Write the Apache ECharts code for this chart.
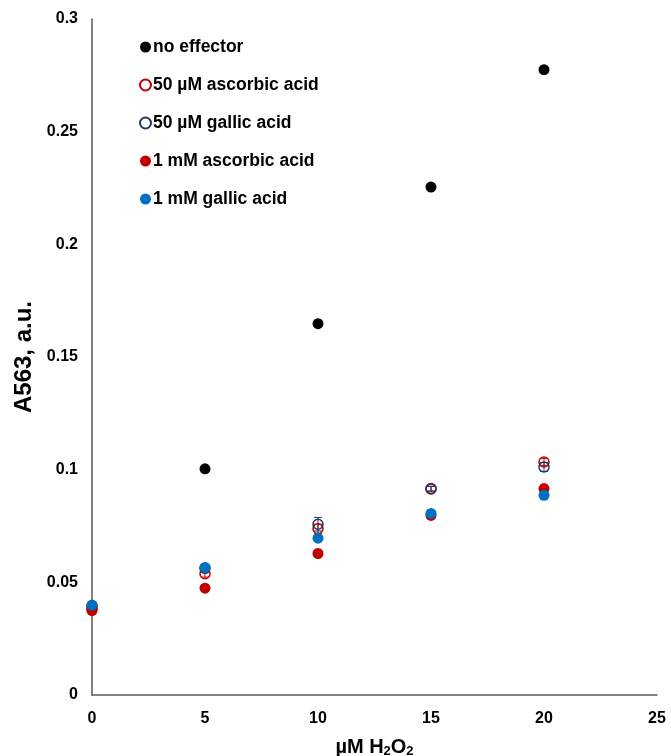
<!DOCTYPE html>
<html>
<head>
<meta charset="utf-8">
<script src="https://cdn.jsdelivr.net/npm/echarts@6/dist/echarts.min.js"></script>
<style>
  html, body { margin: 0; padding: 0; background: #fff; }
  #chart { width: 671px; height: 756px; }
</style>
</head>
<body>
<div id="chart"></div>
<script>
const xValues = [0, 5, 10, 15, 20];
const seriesNames = ['no effector', '50 µM ascorbic acid', '50 µM gallic acid', '1 mM ascorbic acid', '1 mM gallic acid'];
const noEffector = [0.039, 0.1004, 0.1648, 0.2254, 0.2775];
const asc50 = [0.038, 0.0538, 0.0738, 0.0916, 0.1034];
const gal50 = [0.0395, 0.0562, 0.0758, 0.0914, 0.1012];
const asc1mM = [0.0375, 0.0474, 0.0628, 0.0797, 0.0916];
const gal1mM = [0.0399, 0.0566, 0.0696, 0.0806, 0.0886];
const asc50Err = [0.001, 0.0015, 0.002, 0.001, 0.0015];
const gal50Err = [0.001, 0.001, 0.003, 0.0012, 0.002];
const yTicks = [0, 0.05, 0.1, 0.15, 0.2, 0.25, 0.3];

const font = 'Liberation Sans, Arial, sans-serif';

const pairs = (ys) => ys.map((y, i) => [xValues[i], y]);

// small I-shaped error bars for the 50 µM series
const errorSeries = (ys, errs, color) => ({
  type: 'custom',
  silent: true,
  z: 1,
  data: ys.map((y, i) => [xValues[i], y - errs[i], y + errs[i]]),
  renderItem: (params, api) => {
    const lo = api.coord([api.value(0), api.value(1)]);
    const hi = api.coord([api.value(0), api.value(2)]);
    const w = 4;
    const style = { stroke: color, lineWidth: 1 };
    return {
      type: 'group',
      children: [
        { type: 'line', shape: { x1: lo[0], y1: lo[1], x2: hi[0], y2: hi[1] }, style },
        { type: 'line', shape: { x1: lo[0] - w, y1: lo[1], x2: lo[0] + w, y2: lo[1] }, style },
        { type: 'line', shape: { x1: hi[0] - w, y1: hi[1], x2: hi[0] + w, y2: hi[1] }, style }
      ]
    };
  }
});

const chart = echarts.init(document.getElementById('chart'));

const option = {
  animation: false,
  textStyle: { fontFamily: font },
  grid: { left: 92, right: 14, top: 19, bottom: 61, containLabel: false, outerBoundsMode: 'none' },
  legend: {
    orient: 'vertical',
    left: 134,
    top: 33,
    itemGap: 20,
    itemWidth: 11,
    itemHeight: 11,
    textStyle: { fontFamily: font, fontWeight: 'bold', fontSize: 17.5, color: '#000', padding: [0, 0, 0, -3] },
    data: seriesNames
  },
  xAxis: {
    type: 'value',
    min: 0,
    max: 25,
    interval: 5,
    name: 'µM H{sub|2}O{sub|2}',
    nameLocation: 'middle',
    nameGap: 41,
    nameTextStyle: {
      fontFamily: font, fontWeight: 'bold', fontSize: 20, color: '#000',
      rich: { sub: { fontFamily: font, fontWeight: 'bold', fontSize: 13, color: '#000', verticalAlign: 'bottom', padding: [9, 0, 0, 0] } }
    },
    axisLine: { lineStyle: { color: '#595959', width: 1.5 } },
    axisTick: { show: false },
    splitLine: { show: false },
    axisLabel: { fontFamily: font, fontWeight: 'bold', fontSize: 16, color: '#000', margin: 16 }
  },
  yAxis: {
    type: 'value',
    min: 0,
    max: 0.3,
    interval: 0.05,
    name: 'A563, a.u.',
    nameLocation: 'middle',
    nameGap: 55,
    nameTextStyle: { fontFamily: font, fontWeight: 'bold', fontSize: 24, color: '#000' },
    axisLine: { show: true, lineStyle: { color: '#595959', width: 1.5 } },
    axisTick: { show: false },
    splitLine: { show: false },
    axisLabel: {
      fontFamily: font, fontWeight: 'bold', fontSize: 16, color: '#000', margin: 14,
      formatter: (v) => {
        const t = yTicks.find((k) => Math.abs(k - v) < 1e-9);
        return t === undefined ? '' : String(t);
      }
    }
  },
  series: [
    {
      name: seriesNames[0], type: 'scatter', symbol: 'circle', symbolSize: 11, z: 2,
      itemStyle: { color: '#000', opacity: 1 }, data: pairs(noEffector)
    },
    errorSeries(asc50, asc50Err, '#c00000'),
    {
      name: seriesNames[1], type: 'scatter', symbol: 'circle', symbolSize: 10, z: 3,
      itemStyle: { color: 'rgba(255,255,255,0)', borderColor: '#c00000', borderWidth: 1.5, opacity: 1 },
      data: pairs(asc50)
    },
    errorSeries(gal50, gal50Err, '#203864'),
    {
      name: seriesNames[2], type: 'scatter', symbol: 'circle', symbolSize: 10, z: 3,
      itemStyle: { color: 'rgba(255,255,255,0)', borderColor: '#203864', borderWidth: 1.5, opacity: 1 },
      data: pairs(gal50)
    },
    {
      name: seriesNames[3], type: 'scatter', symbol: 'circle', symbolSize: 11, z: 4,
      itemStyle: { color: '#c00000', opacity: 1 }, data: pairs(asc1mM)
    },
    {
      name: seriesNames[4], type: 'scatter', symbol: 'circle', symbolSize: 11, z: 5,
      itemStyle: { color: '#0070c0', opacity: 1 }, data: pairs(gal1mM)
    }
  ]
};

chart.setOption(option);
</script>
</body>
</html>
